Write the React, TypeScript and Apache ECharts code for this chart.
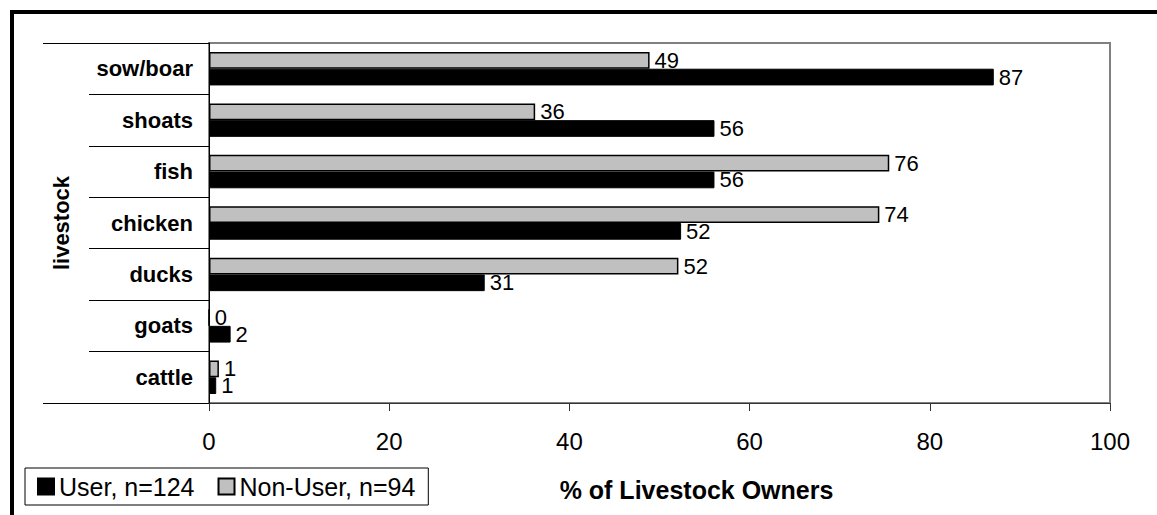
import React, { useEffect, useRef } from "react";
import * as echarts from "echarts";

const categories = ["sow/boar", "shoats", "fish", "chicken", "ducks", "goats", "cattle"];
const userValues = [87.1, 56.1, 56.1, 52.4, 30.6, 2.4, 0.8];
const nonUserValues = [48.9, 36.2, 75.5, 74.4, 52.1, 0, 1.1];
const xTicks = { min: 0, max: 100, interval: 20 };
const seriesNames = ["User, n=124", "Non-User, n=94"];

const FONT = "'Liberation Sans', Arial, sans-serif";

export default function App() {
  const ref = useRef<HTMLDivElement>(null);
  useEffect(() => {
    if (!ref.current) return;
    const chart = echarts.init(ref.current, undefined, { renderer: "svg" });
    const labelCfg = {
      show: true,
      position: "right",
      distance: 5,
      color: "#000",
      fontSize: 22,
      fontFamily: FONT,
      formatter: (p: any) => String(Math.round(p.value)),
    };
    chart.setOption({
      animation: false,
      backgroundColor: "#fff",
      textStyle: { fontFamily: FONT, color: "#000" },
      grid: {
        left: 209,
        right: 47,
        top: 43,
        bottom: 112,
        show: true,
        borderColor: "#808080",
        borderWidth: 2,
        backgroundColor: "transparent",
      },
      legend: {
        data: seriesNames,
        left: 25,
        top: 468,
        orient: "horizontal",
        icon: "rect",
        itemWidth: 16,
        itemHeight: 16,
        itemGap: 23,
        padding: [6, 13, 6, 12],
        borderColor: "#000",
        borderWidth: 1,
        textStyle: { fontSize: 25, color: "#000", fontFamily: FONT },
      },
      xAxis: {
        type: "value",
        min: xTicks.min,
        max: xTicks.max,
        interval: xTicks.interval,
        name: "% of Livestock Owners",
        nameLocation: "middle",
        nameGap: 74,
        nameTextStyle: {
          fontSize: 25,
          fontWeight: "bold",
          color: "#000",
          fontFamily: FONT,
          padding: [0, 0, 0, 74],
        },
        axisLine: { show: true, lineStyle: { color: "#333", width: 1 } },
        axisTick: { show: true, length: 8, lineStyle: { color: "#333" } },
        axisLabel: { fontSize: 24, color: "#000", margin: 26, fontFamily: FONT },
        splitLine: { show: false },
      },
      yAxis: {
        type: "category",
        data: categories,
        inverse: true,
        name: "livestock",
        nameLocation: "middle",
        nameGap: 137,
        nameRotate: 90,
        nameTextStyle: { fontSize: 22, fontWeight: "bold", color: "#000", fontFamily: FONT },
        axisLine: { show: true, lineStyle: { color: "#000", width: 1 } },
        axisTick: { show: true, length: 120, interval: 0, lineStyle: { color: "#000", width: 1 } },
        axisLabel: { fontSize: 22, fontWeight: "bold", color: "#000", margin: 16, fontFamily: FONT },
      },
      series: [
        {
          name: seriesNames[1],
          type: "bar",
          data: nonUserValues,
          barCategoryGap: "35%",
          barGap: "0%",
          itemStyle: { color: "#c0c0c0", borderColor: "#000", borderWidth: 1.5 },
          label: labelCfg,
        },
        {
          name: seriesNames[0],
          type: "bar",
          data: userValues,
          barCategoryGap: "35%",
          barGap: "0%",
          itemStyle: { color: "#000", borderColor: "#000", borderWidth: 1 },
          label: labelCfg,
        },
      ],
      graphic: [
        { type: "line", shape: { x1: 10, y1: 12, x2: 1157, y2: 12 }, style: { stroke: "#000", lineWidth: 4 } },
        { type: "line", shape: { x1: 12, y1: 10, x2: 12, y2: 515 }, style: { stroke: "#000", lineWidth: 4 } },
        { type: "line", shape: { x1: 43, y1: 43.5, x2: 209, y2: 43.5 }, style: { stroke: "#000", lineWidth: 1 } },
        { type: "line", shape: { x1: 43, y1: 403.5, x2: 209, y2: 403.5 }, style: { stroke: "#000", lineWidth: 1 } },
      ],
    });
    return () => chart.dispose();
  }, []);
  return (
    <div
      ref={ref}
      style={{ position: "fixed", left: 0, top: 0, width: 1157, height: 515 }}
    />
  );
}
